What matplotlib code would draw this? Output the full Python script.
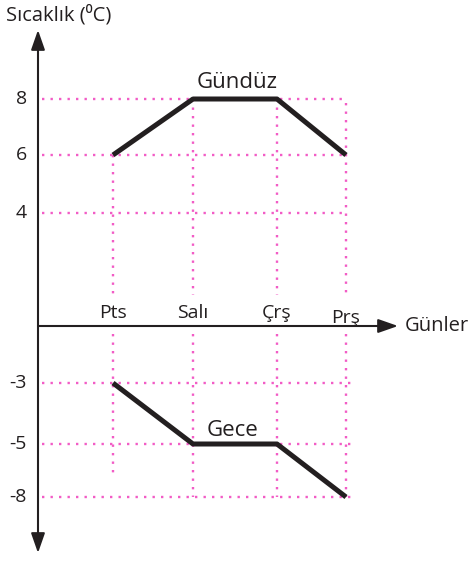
import numpy as np
import matplotlib
matplotlib.use("Agg")
import matplotlib.pyplot as plt

plt.rcParams['font.family'] = ['Open Sans', 'DejaVu Sans']

# veriler
gunler = ['Pts', 'Salı', 'Çrş', 'Prş']
gunduz = [6, 8, 8, 6]
gece = [-3, -5, -5, -8]
y_ticks = [8, 6, 4, -3, -5, -8]

INK = '#231f20'
PINK = '#f25cc6'

# şematik çizimdeki eşit olmayan aralıklar (değer -> piksel)
y_vals = [-30, -8, -5, -3, 0, 4, 6, 8, 30]
y_pos = [-328, 68, 121, 182, 239, 352, 410, 466, 1082]
x_vals = [-10, 0, 1, 2, 3, 10]
x_pos = [113 - 780, 113, 193, 277, 346, 346 + 7 * 78]


def fy(v):
    return np.interp(v, y_vals, y_pos)


def iy(p):
    return np.interp(p, y_pos, y_vals)


def fx(v):
    return np.interp(v, x_vals, x_pos)


def ix(p):
    return np.interp(p, x_pos, x_vals)


fig = plt.figure(figsize=(4.73, 5.65), dpi=100)
ax = fig.add_axes([0, 0, 1, 1])
ax.set_xscale('function', functions=(fx, ix))
ax.set_yscale('function', functions=(fy, iy))
ax.set_xlim(ix(0), ix(473))
ax.set_ylim(iy(0), iy(565))
ax.axis('off')

dot = dict(color=PINK, lw=1.7, linestyle=(0, (1, 2.6)))
x_idx = np.arange(len(gunler))
y_axis_x = ix(42)

# yatay kılavuz çizgileri
for v in y_ticks:
    right = 3 if v > 0 else 3.08
    ax.plot([y_axis_x, right], [v, v], **dot)

# dikey kılavuz çizgileri
tops = [gunduz[0], 8, 8, 7.85]
bottoms = [-6.8, -8, -8, -8]
for i in x_idx:
    ax.plot([i, i], [tops[i], 1.1], **dot)
    ax.plot([i, i], [-0.4, bottoms[i]], **dot)

# sıcaklık çizgileri
ax.plot(x_idx, gunduz, color=INK, lw=3.6, solid_capstyle='butt')
ax.plot(x_idx, gece, color=INK, lw=3.6, solid_capstyle='butt')

# eksenler
arrow = dict(arrowstyle='<|-|>,head_length=1.0,head_width=0.35',
             mutation_scale=12, lw=1.5, color=INK, shrinkA=0, shrinkB=0)
ax.annotate('', xy=(38 / 473, 1 - 30 / 565), xytext=(38 / 473, 1 - 553 / 565),
            xycoords='axes fraction', arrowprops=arrow)
arrow_x = dict(arrow, arrowstyle='-|>,head_length=1.0,head_width=0.35')
ax.annotate('', xy=(398 / 473, 0), xytext=(38 / 473, 0),
            xycoords=ax.get_yaxis_transform(), arrowprops=arrow_x)

# etiketler
for v in y_ticks:
    ax.text(27 / 473, v, str(v), transform=ax.get_yaxis_transform(),
            ha='right', va='center', fontsize=14, color=INK)

label_off = [8, 8, 8, 3]
for i, g in enumerate(gunler):
    ax.annotate(g, (i, 0), xytext=(0, label_off[i] * 0.72), textcoords='offset points',
                ha='center', va='baseline', fontsize=14, color=INK)

ax.text(405 / 473, 0, 'Günler', transform=ax.get_yaxis_transform(),
        ha='left', va='center', fontsize=14.5, color=INK)
fig.text(6 / 473, 1 - 20 / 565, 'Sıcaklık (⁰C)', ha='left', va='baseline',
         fontsize=14.5, color=INK)

ax.annotate('Gündüz', (1.53, 8), xytext=(0, 8), textcoords='offset points',
            ha='center', va='baseline', fontsize=16, color=INK)
ax.annotate('Gece', (1.47, -5), xytext=(0, 6), textcoords='offset points',
            ha='center', va='baseline', fontsize=16, color=INK)

fig.savefig('out.png', dpi=100, facecolor='white')
